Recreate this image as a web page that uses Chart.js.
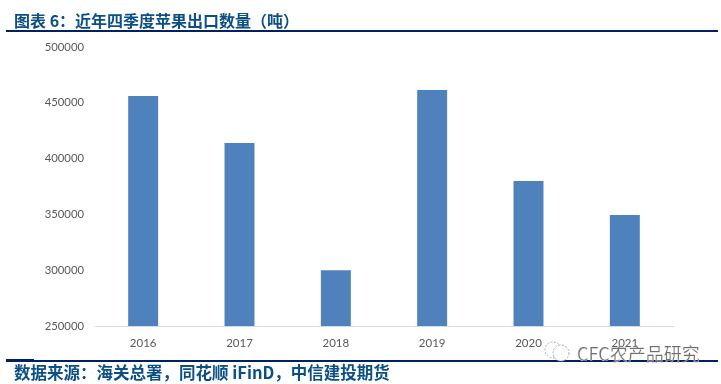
<!doctype html>
<html lang="zh">
<head>
<meta charset="utf-8">
<title>图表 6</title>
<script src="https://cdn.jsdelivr.net/npm/chart.js"></script>
<style>
  * { margin: 0; padding: 0; }
  body { width: 721px; height: 384px; background: #fff; overflow: hidden; position: relative; }
  #box { position: absolute; left: 0; top: 0; width: 721px; height: 384px; }
  .head { position: absolute; left: 14px; color: #0b4f85; font: bold 16px "Noto Sans CJK SC", sans-serif; white-space: nowrap; }
  .rule { position: absolute; left: 6px; width: 712px; height: 2px; background: #002060; }
  #mark { position: absolute; left: 577px; top: 340px; font: 18px "Noto Sans CJK SC", sans-serif; color: #6e6e6e; white-space: nowrap;
          -webkit-text-stroke: 0.2px #fff; }
  #logo { position: absolute; left: 542px; top: 339px; }
</style>
</head>
<body>
<div id="box"><canvas id="myChart"></canvas></div>
<div class="head" id="title" style="top:8px">图表 6：近年四季度苹果出口数量（吨）</div>
<div class="rule" style="top:30px"></div>
<div class="rule" style="top:360px"></div>
<div style="position:absolute;left:6px;top:359px;width:28px;height:1px;background:#002060"></div>
<div class="head" id="source" style="top:360px;font-size:16.5px">数据来源：海关总署，同花顺 iFinD，中信建投期货</div>
<svg id="logo" width="32" height="26" fill="none" stroke="#aaa" stroke-width="1" stroke-dasharray="2 1.5">
  <circle cx="11" cy="11" r="8"></circle>
  <circle cx="19" cy="14" r="8" fill="#fff"></circle>
</svg>
<div id="mark">CFC农产品研究</div>
<script>
// chart data
const categories = ['2016', '2017', '2018', '2019', '2020', '2021'];
const exportTons = [456000, 414000, 300000, 461500, 380000, 349500];
const yTicks = [250000, 300000, 350000, 400000, 450000, 500000];

const config = {
  type: 'bar',
  data: {
    labels: categories,
    datasets: [{
      data: exportTons,
      backgroundColor: '#4f81bd',
      categoryPercentage: 1,
      barPercentage: 0.311
    }]
  },
  options: {
    responsive: true,
    maintainAspectRatio: false,
    animation: false,
    layout: { padding: { top: 47, right: 48, left: 0, bottom: 0 } },
    plugins: { legend: { display: false }, tooltip: { enabled: false } },
    scales: {
      x: {
        afterFit: (axis) => { axis.height = 58; },
        border: { color: '#d9d9d9', width: 1 },
        grid: { display: false },
        ticks: { color: '#595959', font: { family: 'Lato', size: 11.5 }, padding: 2, maxRotation: 0 }
      },
      y: {
        min: 250000,
        max: 500000,
        afterFit: (axis) => { axis.width = 95; },
        afterBuildTicks: (axis) => { axis.ticks = yTicks.map(v => ({ value: v })); },
        border: { display: false },
        grid: { display: false },
        ticks: { color: '#595959', font: { family: 'Lato', size: 11.3 }, padding: 3, callback: v => String(v) }
      }
    }
  }
};

new Chart(document.getElementById('myChart'), config);
</script>
</body>
</html>
